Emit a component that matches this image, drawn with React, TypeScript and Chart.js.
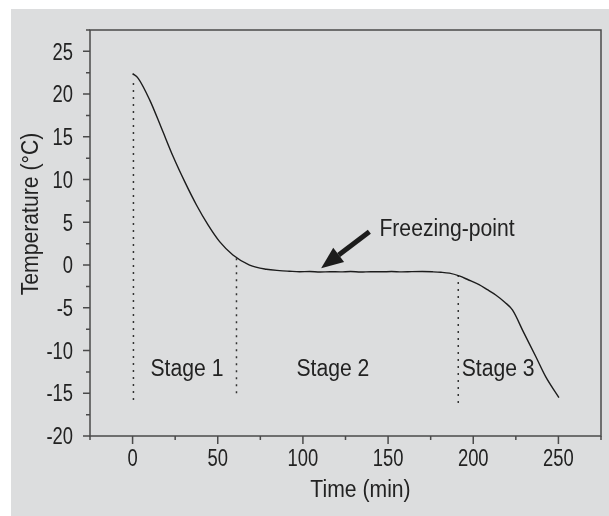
import { useEffect, useRef } from "react";
import { Chart, registerables } from "chart.js";

Chart.register(...registerables);

// Cooling curve: time in minutes, temperature in °C
const timeMin = [
  0, 3.3, 10.1, 17, 23.8, 30.6, 37.5, 44.3, 51.1, 58.9, 68.7, 78.5, 86.3, 92, 98,
  104, 110, 116, 122, 128, 134, 140, 146, 152, 158, 164, 170, 176, 181, 186, 191.7,
  197, 203.4, 208, 213.2, 218.5, 223, 229.8, 236.7, 242.5, 250.3,
];
const tempC = [
  22.4, 21.85, 19.3, 16.0, 12.7, 9.76, 7.03, 4.7, 2.74, 1.18, 0.0, -0.49, -0.65,
  -0.72, -0.78, -0.75, -0.81, -0.78, -0.8, -0.75, -0.82, -0.78, -0.79, -0.76,
  -0.8, -0.77, -0.76, -0.79, -0.84, -0.95, -1.27, -1.72, -2.3, -2.85, -3.5, -4.35,
  -5.25, -7.97, -10.7, -13.05, -15.5,
];

// Dotted stage boundaries
const stageMarkTime = [0.5, 61, 191.2];
const stageMarkTop = [21.3, 0.8, -1.15];
const stageMarkBottom = [-16.0, -15.4, -16.5];

// Stage captions (left edge time, baseline temperature)
const stageLabels = ["Stage 1", "Stage 2", "Stage 3"];
const stageLabelTime = [10.5, 96.2, 193.2];
const stageLabelTemp = -13.0;

// Freezing-point note and arrow
const noteText = "Freezing-point";
const noteAt = [144.9, 3.4];
const arrowTail = [139, 3.9];
const arrowTip = [110.7, -0.37];

// Axis ranges and labelled ticks
const xRange = [-25, 275];
const yRange = [-20, 27.5];
const xTickLabels = [0, 50, 100, 150, 200, 250];
const yTickLabels = [-20, -15, -10, -5, 0, 5, 10, 15, 20, 25];

const FONT = "'Liberation Sans', Arial, Helvetica, sans-serif";
const FONT_SIZE = 23;
const WORD_SQUEEZE = 0.92;
const DIGIT_SQUEEZE = 0.8;
const INK = "#222222";
const FRAME = "#4a4a4a";

// condensed-looking text: squeeze horizontally around the anchor point
function squeezedText(
  ctx: CanvasRenderingContext2D,
  text: string,
  x: number,
  y: number,
  squeeze: number,
  align: CanvasTextAlign,
  rotate = 0
) {
  ctx.save();
  ctx.translate(x, y);
  if (rotate) ctx.rotate(rotate);
  ctx.scale(squeeze, 1);
  ctx.textAlign = align;
  ctx.textBaseline = "alphabetic";
  ctx.fillText(text, 0, 0);
  ctx.restore();
}

const decorations = {
  id: "decorations",
  afterDraw(chart: any) {
    const { ctx, chartArea: a, scales } = chart;
    const xs = scales.x;
    const ys = scales.y;
    ctx.save();

    // frame around the plot area
    ctx.strokeStyle = FRAME;
    ctx.lineWidth = 1.5;
    ctx.strokeRect(a.left, a.top, a.right - a.left, a.bottom - a.top);

    // outward tick marks: long at labelled values, short otherwise
    ctx.beginPath();
    for (const t of ys.ticks) {
      const py = ys.getPixelForValue(t.value);
      const len = yTickLabels.includes(t.value) ? 7 : 4;
      ctx.moveTo(a.left - len, py);
      ctx.lineTo(a.left, py);
    }
    for (const t of xs.ticks) {
      const px = xs.getPixelForValue(t.value);
      const len = xTickLabels.includes(t.value) ? 8 : 4;
      ctx.moveTo(px, a.bottom);
      ctx.lineTo(px, a.bottom + len);
    }
    ctx.stroke();

    ctx.fillStyle = INK;
    ctx.font = `${FONT_SIZE}px ${FONT}`;
    const capHalf = FONT_SIZE * 0.716 / 2;

    // tick labels from the scales' own tick list
    for (const t of ys.ticks) {
      if (!t.label) continue;
      squeezedText(ctx, String(t.label), a.left - 17, ys.getPixelForValue(t.value) + capHalf, DIGIT_SQUEEZE, "right");
    }
    for (const t of xs.ticks) {
      if (!t.label) continue;
      squeezedText(ctx, String(t.label), xs.getPixelForValue(t.value), a.bottom + 30, DIGIT_SQUEEZE, "center");
    }

    // stage captions and note
    stageLabels.forEach((s, i) => {
      squeezedText(ctx, s, xs.getPixelForValue(stageLabelTime[i]), ys.getPixelForValue(stageLabelTemp), WORD_SQUEEZE, "left");
    });
    squeezedText(ctx, noteText, xs.getPixelForValue(noteAt[0]), ys.getPixelForValue(noteAt[1]), WORD_SQUEEZE, "left");

    // axis titles
    squeezedText(ctx, "Time (min)", (a.left + a.right) / 2 + 15, a.bottom + 61, WORD_SQUEEZE, "center");
    squeezedText(ctx, "Temperature (°C)", a.left - 52, (a.top + a.bottom) / 2 - 19, WORD_SQUEEZE, "center", -Math.PI / 2);

    // arrow pointing at the freezing plateau
    const x0 = xs.getPixelForValue(arrowTail[0]);
    const y0 = ys.getPixelForValue(arrowTail[1]);
    const x1 = xs.getPixelForValue(arrowTip[0]);
    const y1 = ys.getPixelForValue(arrowTip[1]);
    const ang = Math.atan2(y1 - y0, x1 - x0);
    const headLen = 22;
    const headHalf = 9;
    const bx = x1 - headLen * Math.cos(ang);
    const by = y1 - headLen * Math.sin(ang);
    ctx.strokeStyle = "#1c1c1c";
    ctx.fillStyle = "#1c1c1c";
    ctx.lineWidth = 5;
    ctx.beginPath();
    ctx.moveTo(x0, y0);
    ctx.lineTo(bx, by);
    ctx.stroke();
    ctx.beginPath();
    ctx.moveTo(x1, y1);
    ctx.lineTo(bx + headHalf * Math.sin(ang), by - headHalf * Math.cos(ang));
    ctx.lineTo(bx - headHalf * Math.sin(ang), by + headHalf * Math.cos(ang));
    ctx.closePath();
    ctx.fill();

    ctx.restore();
  },
};

export default function App() {
  const canvasRef = useRef<HTMLCanvasElement | null>(null);

  useEffect(() => {
    const canvas = canvasRef.current;
    if (!canvas) return;

    const curve = timeMin.map((t, i) => ({ x: t, y: tempC[i] }));
    const marks = stageMarkTime.map((t, i) => ({
      label: `boundary ${i + 1}`,
      data: [
        { x: t, y: stageMarkTop[i] },
        { x: t, y: stageMarkBottom[i] },
      ],
      borderColor: "#333333",
      borderWidth: 1.5,
      borderDash: [2, 5],
      pointRadius: 0,
      tension: 0,
    }));

    const chart = new Chart(canvas, {
      type: "line",
      data: {
        datasets: [
          {
            label: "Temperature",
            data: curve,
            borderColor: "#1c1c1c",
            borderWidth: 1.4,
            pointRadius: 0,
            cubicInterpolationMode: "monotone",
          },
          ...marks,
        ],
      },
      options: {
        animation: false,
        responsive: false,
        maintainAspectRatio: false,
        events: [],
        layout: { padding: { top: 21, right: 8, left: 0, bottom: 0 } },
        plugins: {
          legend: { display: false },
          tooltip: { enabled: false },
          title: { display: false },
        },
        scales: {
          x: {
            type: "linear",
            min: xRange[0],
            max: xRange[1],
            grid: { display: false, drawTicks: false },
            border: { display: false },
            afterFit: (s: any) => {
              s.height = 80;
              s.paddingLeft = 0;
              s.paddingRight = 0;
            },
            ticks: {
              display: false,
              stepSize: 25,
              autoSkip: false,
              maxRotation: 0,
              callback: (v: any) => (xTickLabels.includes(Number(v)) ? String(v) : ""),
            },
          },
          y: {
            type: "linear",
            min: yRange[0],
            max: yRange[1],
            grid: { display: false, drawTicks: false },
            border: { display: false },
            afterFit: (s: any) => {
              s.width = 79;
              s.paddingTop = 0;
              s.paddingBottom = 0;
            },
            ticks: {
              display: false,
              stepSize: 2.5,
              autoSkip: false,
              callback: (v: any) => (yTickLabels.includes(Number(v)) ? String(v) : ""),
            },
          },
        },
      },
      plugins: [decorations],
    });

    return () => chart.destroy();
  }, []);

  return (
    <div
      style={{
        position: "absolute",
        left: 11,
        top: 9,
        width: 598,
        height: 507,
        background: "#dcddde",
      }}
    >
      <canvas
        ref={canvasRef}
        width={598}
        height={507}
        style={{ display: "block", width: 598, height: 507 }}
      />
    </div>
  );
}
